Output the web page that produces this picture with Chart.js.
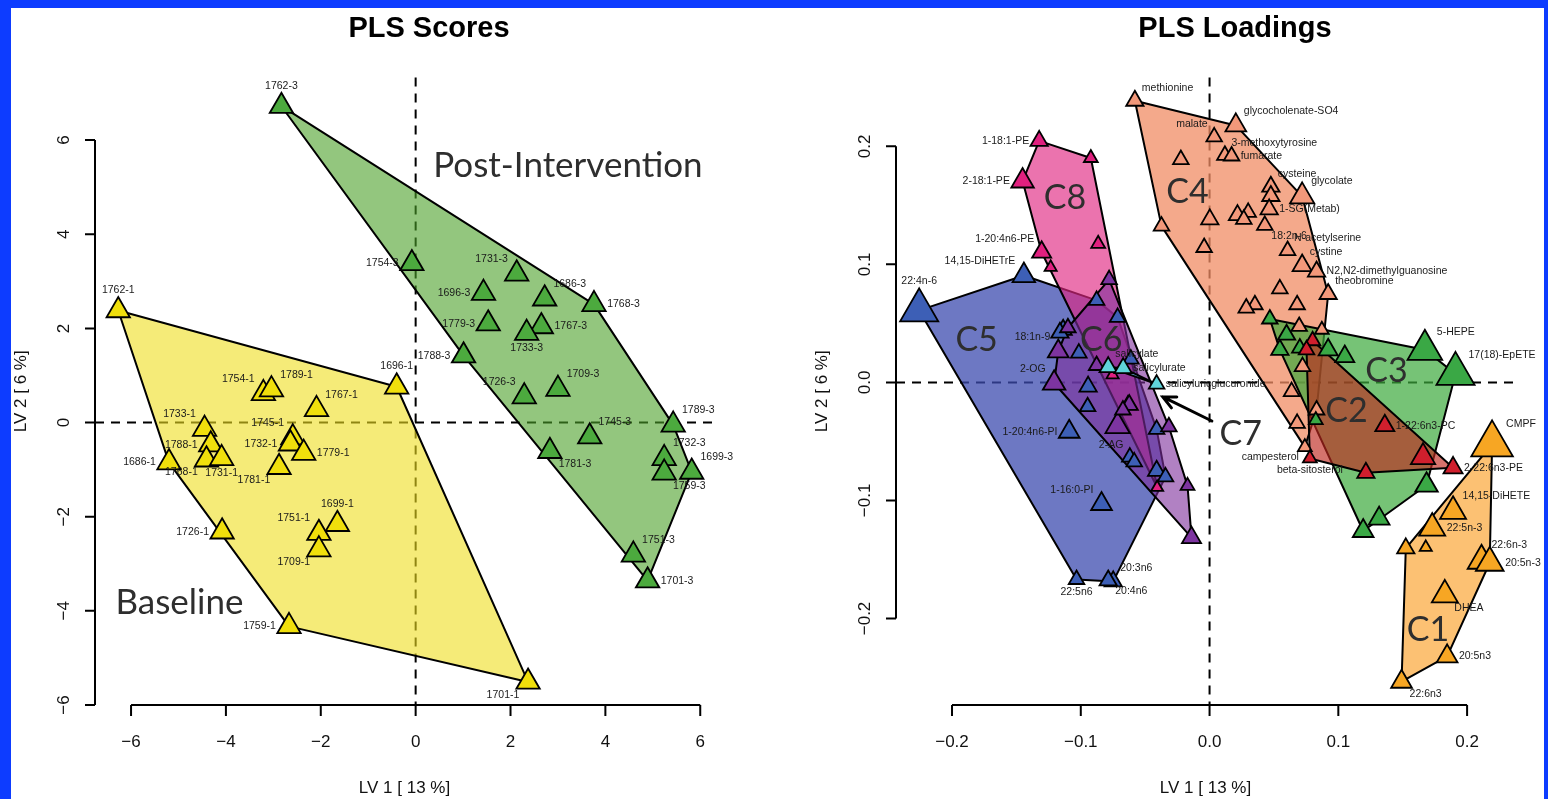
<!DOCTYPE html>
<html>
<head>
<meta charset="utf-8">
<script src="https://cdn.jsdelivr.net/npm/chart.js@4.4.0/dist/chart.umd.min.js"></script>
<style>
html, body { margin: 0; padding: 0; width: 1548px; height: 799px; overflow: hidden; background: #0d3cff; }
#sheet { position: absolute; left: 11px; top: 8px; width: 1533px; height: 791px; background: #fff; }
.box { position: absolute; top: 8px; height: 791px; }
#boxL { left: 11px; width: 764px; }
#boxR { left: 775px; width: 769px; }
</style>
</head>
<body>
<div id="sheet"></div>
<div class="box" id="boxL"><canvas id="scores"></canvas></div>
<div class="box" id="boxR"><canvas id="loadings"></canvas></div>
<script>
// ================== DATOS: PLS SCORES ==================
const baselineIds = ['1762-1', '1696-1', '1754-1', '1789-1', '1767-1', '1733-1', '1788-1', '1745-1', '1732-1', '1779-1',
    '1686-1', '1768-1', '1731-1', '1781-1', '1699-1', '1751-1', '1709-1', '1726-1', '1759-1', '1701-1'];
const baselineLV1 = [-6.27, -0.40, -3.21, -3.04, -2.09, -4.45, -4.32, -2.59, -2.64, -2.36,
    -5.20, -4.41, -4.09, -2.88, -1.65, -2.04, -2.04, -4.08, -2.67, 2.37];
const baselineLV2 = [2.38, 0.76, 0.62, 0.70, 0.28, -0.14, -0.47, -0.32, -0.45, -0.65,
    -0.85, -0.79, -0.76, -0.95, -2.16, -2.35, -2.70, -2.32, -4.33, -5.51];

const postIds = ['1762-3', '1754-3', '1731-3', '1696-3', '1686-3', '1768-3', '1779-3', '1767-3', '1733-3', '1788-3',
    '1726-3', '1709-3', '1789-3', '1745-3', '1781-3', '1732-3', '1759-3', '1699-3', '1751-3', '1701-3'];
const postLV1 = [-2.83, -0.08, 2.13, 1.43, 2.72, 3.76, 1.53, 2.65, 2.34, 1.01,
    2.29, 3.00, 5.43, 3.67, 2.83, 5.24, 5.24, 5.82, 4.59, 4.89];
const postLV2 = [6.72, 3.38, 3.16, 2.75, 2.63, 2.51, 2.10, 2.04, 1.90, 1.42,
    0.55, 0.71, -0.05, -0.30, -0.61, -0.76, -1.07, -1.05, -2.81, -3.36];

const scoreTicks = [-6, -4, -2, 0, 2, 4, 6];

// ================== DATOS: PLS LOADINGS (clusters) ==================
const c1Names = ['CMPF', '14,15-DiHETE', '22:5n-3', '', '', '22:6n-3', '20:5n-3', 'DHEA', '20:5n3', '22:6n3'];
const c1LV1 = [0.2194, 0.1891, 0.1729, 0.1679, 0.1524, 0.2112, 0.2176, 0.1827, 0.1845, 0.1491];
const c1LV2 = [-0.0525, -0.1092, -0.1234, -0.1398, -0.1406, -0.1511, -0.1528, -0.1800, -0.2321, -0.2536];
const c1Vip = [2.4, 1.5, 1.5, 0.7, 1.0, 1.6, 1.6, 1.5, 1.2, 1.2];

const c2Names = ['', '', '1-22:6n3-PC', '', '2-22:6n3-PE', '', 'beta-sitosterol'];
const c2LV1 = [0.0800, 0.0753, 0.1361, 0.1658, 0.1891, 0.1214, 0.0779];
const c2LV2 = [0.0353, 0.0276, -0.0367, -0.0633, -0.0724, -0.0766, -0.0644];
const c2Vip = [0.9, 0.9, 1.1, 1.4, 1.1, 1.0, 0.8];

const c3Names = ['5-HEPE', '17(18)-EpETE', '', '', '', '', '', '', '', '', '', ''];
const c3LV1 = [0.1672, 0.1910, 0.1050, 0.0921, 0.0546, 0.0598, 0.0468, 0.0701, 0.0825, 0.1685, 0.1317, 0.1193];
const c3LV2 = [0.0276, 0.0072, 0.0219, 0.0276, 0.0276, 0.0404, 0.0537, 0.0291, -0.0319, -0.0871, -0.1154, -0.1259];
const c3Vip = [2.0, 2.2, 1.1, 1.1, 1.0, 1.0, 0.9, 0.9, 0.8, 1.3, 1.2, 1.2];

const c4Names = ['methionine', 'glycocholenate-SO4', 'malate', '3-methoxytyrosine', 'fumarate', '', 'cysteine', '',
    'glycolate', '1-SG(Metab)', '', '', '', '', '', '18:2n-6', '', 'N-acetylserine', 'cystine',
    'N2,N2-dimethylguanosine', 'theobromine', '', '', '', '', '', '', '', '', '', '', 'campesterol'];
const c4LV1 = [-0.0580, 0.0204, 0.0036, 0.0119, 0.0171, -0.0223, 0.0476, 0.0476, 0.0719, 0.0463,
    0.0217, 0.0300, 0.0266, 0.0002, -0.0373, 0.0429, -0.0042, 0.0606, 0.0719, 0.0831,
    0.0921, 0.0546, 0.0352, 0.0285, 0.0680, 0.0696, 0.0872, 0.0722, 0.0637, 0.0831, 0.0680, 0.0740];
const c4LV2 = [0.2386, 0.2177, 0.2080, 0.1924, 0.1918, 0.1888, 0.1658, 0.1579, 0.1576, 0.1466,
    0.1417, 0.1440, 0.1381, 0.1381, 0.1324, 0.1330, 0.1143, 0.1117, 0.0990, 0.0939,
    0.0749, 0.0792, 0.0658, 0.0630, 0.0658, 0.0474, 0.0446, 0.0134, -0.0078, -0.0234, -0.0347, -0.0548];
const c4Vip = [1.0, 1.2, 0.9, 0.9, 0.9, 0.9, 1.0, 1.0, 1.4, 1.0,
    1.0, 0.9, 0.9, 1.0, 0.9, 0.9, 0.9, 0.9, 1.1, 1.0,
    1.0, 0.9, 0.9, 0.9, 0.9, 0.9, 0.8, 0.9, 0.9, 0.9, 0.9, 0.8];

const c5Names = ['22:4n-6', '14,15-DiHETrE', '', '', '', '', '', '1-20:4n6-PI', '', '', '', '', '', '2-AG', '', '', '',
    '1-16:0-PI', '22:5n6', '20:3n6', '20:4n6'];
const c5LV1 = [-0.2255, -0.1442, -0.1137, -0.1162, -0.1015, -0.0943, -0.0947, -0.1090, -0.0877, -0.0714, -0.0611,
    -0.0634, -0.0411, -0.0619, -0.0585, -0.0411, -0.0342, -0.0839, -0.1033, -0.0748, -0.0787];
const c5LV2 = [0.0610, 0.0905, 0.0446, 0.0421, 0.0248, -0.0036, -0.0206, -0.0418, 0.0695, 0.0551, 0.0197,
    -0.0191, -0.0398, -0.0633, -0.0673, -0.0749, -0.0800, -0.1030, -0.1670, -0.1686, -0.1678];
const c5Vip = [2.2, 1.3, 1.0, 1.0, 0.9, 1.0, 0.9, 1.2, 0.9, 0.9, 0.9, 0.9, 0.9, 0.9, 0.9, 1.0, 0.9, 1.2, 0.9, 1.0, 1.0];

const c6Names = ['18:1n-9', '2-OG', '', '', '', '', '', '', '', '', ''];
const c6LV1 = [-0.1175, -0.1207, -0.0714, -0.0780, -0.0877, -0.0624, -0.0673, -0.0316, -0.0171, -0.0140, -0.1100];
const c6LV2 = [0.0262, -0.0007, -0.0370, 0.0871, 0.0143, -0.0191, -0.0234, -0.0376, -0.0877, -0.1315, 0.0463];
const c6Vip = [1.2, 1.3, 1.4, 0.9, 0.9, 1.0, 0.9, 0.9, 0.8, 1.1, 0.9];

const c7Names = ['salicylate', 'salicylurate', 'salicyluricglucuronide'];
const c7LV1 = [-0.0787, -0.0671, -0.0411];
const c7LV2 = [0.0129, 0.0121, -0.0015];
const c7Vip = [1.0, 1.0, 0.9];

const c8Names = ['1-18:1-PE', '', '2-18:1-PE', '', '1-20:4n6-PE', '', '', ''];
const c8LV1 = [-0.1323, -0.0922, -0.1452, -0.0865, -0.1304, -0.1234, -0.0753, -0.0407];
const c8LV2 = [0.2046, 0.1901, 0.1706, 0.1174, 0.1103, 0.0975, 0.0064, -0.0890];
const c8Vip = [1.0, 0.8, 1.3, 0.8, 1.1, 0.7, 0.7, 0.7];

const loadingTicks = [-0.2, -0.1, 0.0, 0.1, 0.2];

// ================== POSICION DE ETIQUETAS ==================
const baselineLabelPos = ['n', 'n', 'nw', 'ne', 'ne', 'nw', 'w', 'nw', 'w', 'e', 'w', 'sw', 's', 'sw', 'n', 'nw', 'sw', 'w', 'w', 'sw'];
const postLabelPos = ['n', 'w', 'nw', 'w', 'ne', 'e', 'w', 'e', 's', 'w', 'nw', 'ne', 'ne', 'ne', 'se', 'ne', 'se', 'ne', 'ne', 'e'];
const c1LabelPos = ['ne', 'ne', 'e', '', '', 'ne', 'e', 'se', 'e', 'se'];
const c2LabelPos = ['', '', 'e', '', 'e', '', 's'];
const c3LabelPos = ['ne', 'ne'];
const c4LabelPos = ['ne', 'ne', 'nw', 'ne', 'e', '', 'ne', '', 'ne', 'e', '', '', '', '', '', 'se', '', 'ne', 'ne', 'e', 'ne',
    '', '', '', '', '', '', '', '', '', '', 'sw'];
const c5LabelPos = ['n', 'nw', '', '', '', '', '', 'w', '', '', '', '', '', 'nw', '', '', '', 'nw', 's', 'ne', 'se'];
const c6LabelPos = ['nw', 'nw'];
const c7LabelPos = ['ne', 'e', 'e'];
const c8LabelPos = ['w', '', 'w', '', 'nw'];

// ================== FUNCIONES AUXILIARES ==================
const SANS = '"Liberation Sans", Arial, Helvetica, sans-serif';

function toPoints(xs, ys) {
    return xs.map((x, i) => ({ x: x, y: ys[i] }));
}

// Envolvente convexa (monotone chain)
function convexHull(pts) {
    const s = pts.slice().sort((a, b) => a.x - b.x || a.y - b.y);
    const cross = (o, a, b) => (a.x - o.x) * (b.y - o.y) - (a.y - o.y) * (b.x - o.x);
    const lo = [], up = [];
    for (const q of s) {
        while (lo.length >= 2 && cross(lo[lo.length - 2], lo[lo.length - 1], q) <= 0) lo.pop();
        lo.push(q);
    }
    for (const q of s.reverse()) {
        while (up.length >= 2 && cross(up[up.length - 2], up[up.length - 1], q) <= 0) up.pop();
        up.push(q);
    }
    lo.pop(); up.pop();
    const h = lo.concat(up);
    h.push({ x: h[0].x, y: h[0].y });
    return h;
}

function hullSet(xs, ys, fill, order) {
    return {
        data: convexHull(toPoints(xs, ys)),
        showLine: true, fill: 'shape', tension: 0,
        backgroundColor: fill, borderColor: '#000', borderWidth: 2, borderJoinStyle: 'round',
        pointRadius: 0, pointHoverRadius: 0, order: order, clip: false
    };
}

function pointSet(names, xs, ys, radius, labelPos, color, order) {
    return {
        data: toPoints(xs, ys),
        showLine: false, pointStyle: 'triangle', pointRadius: radius,
        pointBackgroundColor: color, pointBorderColor: '#000', pointBorderWidth: 1.8,
        order: order, names: names, labelPos: labelPos, clip: false
    };
}

function labelAnchor(code, x, y, r) {
    switch (code) {
        case 'n': return [x, y - r - 7, 'center'];
        case 's': return [x, y + 0.5 * r + 8, 'center'];
        case 'e': return [x + 0.9 * r + 1, y, 'left'];
        case 'w': return [x - 0.9 * r - 1, y, 'right'];
        case 'ne': return [x + 0.5 * r + 2, y - 0.5 * r - 8, 'left'];
        case 'nw': return [x - 0.5 * r - 2, y - 0.5 * r - 8, 'right'];
        case 'se': return [x + 0.5 * r + 2, y + 0.5 * r + 6, 'left'];
        case 'sw': return [x - 0.5 * r - 2, y + 0.5 * r + 6, 'right'];
    }
    return null;
}

// Plugin estilo R: lineas discontinuas, etiquetas, ejes y titulos
const rPlot = {
    id: 'rplot',
    beforeDatasetsDraw(chart) {
        const { ctx, chartArea: a, scales: { x, y } } = chart;
        const x0 = x.getPixelForValue(0), y0 = y.getPixelForValue(0);
        ctx.save();
        ctx.strokeStyle = '#000';
        ctx.lineWidth = 2;
        ctx.setLineDash([9, 7]);
        ctx.beginPath();
        ctx.moveTo(a.left, y0); ctx.lineTo(a.right, y0);
        ctx.moveTo(x0, a.top); ctx.lineTo(x0, a.bottom);
        ctx.stroke();
        ctx.restore();
    },
    afterDatasetsDraw(chart, args, opts) {
        const { ctx, scales: { x, y } } = chart;
        ctx.save();
        // etiquetas de puntos
        ctx.fillStyle = '#1a1a1a';
        ctx.font = '10.5px ' + SANS;
        ctx.textBaseline = 'middle';
        chart.data.datasets.forEach((ds, i) => {
            if (!ds.names) return;
            const meta = chart.getDatasetMeta(i);
            meta.data.forEach((el, j) => {
                const name = ds.names[j];
                const code = ds.labelPos[j];
                if (!name || !code) return;
                const r = el.options.radius;
                const an = labelAnchor(code, el.x, el.y, r);
                ctx.textAlign = an[2];
                ctx.fillText(name, an[0], an[1]);
            });
        });
        // anotaciones grandes
        ctx.fillStyle = '#2e2e2e';
        ctx.textAlign = 'center';
        ctx.textBaseline = 'alphabetic';
        (opts.notes || []).forEach(n => {
            ctx.font = n.size + 'px Lato, "Open Sans", sans-serif';
            ctx.fillText(n.text, x.getPixelForValue(n.x), y.getPixelForValue(n.y));
        });
        // flechas
        ctx.strokeStyle = '#000';
        ctx.lineWidth = 3;
        ctx.lineCap = 'round';
        (opts.arrows || []).forEach(ar => {
            const x1 = x.getPixelForValue(ar.from[0]), y1 = y.getPixelForValue(ar.from[1]);
            const x2 = x.getPixelForValue(ar.to[0]), y2 = y.getPixelForValue(ar.to[1]);
            const ang = Math.atan2(y2 - y1, x2 - x1);
            ctx.beginPath();
            ctx.moveTo(x1, y1); ctx.lineTo(x2, y2);
            ctx.moveTo(x2 - 14 * Math.cos(ang - 0.45), y2 - 14 * Math.sin(ang - 0.45));
            ctx.lineTo(x2, y2);
            ctx.lineTo(x2 - 14 * Math.cos(ang + 0.45), y2 - 14 * Math.sin(ang + 0.45));
            ctx.stroke();
        });
        ctx.restore();
    },
    afterDraw(chart, args, opts) {
        const { ctx, chartArea: a, scales: { x, y } } = chart;
        const ticks = opts.ticks;
        const fmt = v => opts.fmt(v).replace('-', '\u2212');
        ctx.save();
        ctx.strokeStyle = '#000';
        ctx.fillStyle = '#111';
        ctx.lineWidth = 2;
        // eje x
        const xs = ticks.map(v => x.getPixelForValue(v));
        ctx.beginPath();
        ctx.moveTo(xs[0], a.bottom); ctx.lineTo(xs[xs.length - 1], a.bottom);
        xs.forEach(px => { ctx.moveTo(px, a.bottom); ctx.lineTo(px, a.bottom + 11); });
        // eje y
        const ys = ticks.map(v => y.getPixelForValue(v));
        ctx.moveTo(a.left, ys[0]); ctx.lineTo(a.left, ys[ys.length - 1]);
        ys.forEach(py => { ctx.moveTo(a.left, py); ctx.lineTo(a.left - 10, py); });
        ctx.stroke();

        ctx.font = '17px ' + SANS;
        ctx.textAlign = 'center';
        ctx.textBaseline = 'middle';
        ticks.forEach((v, i) => ctx.fillText(fmt(v), xs[i], a.bottom + 37));
        ticks.forEach((v, i) => {
            ctx.save();
            ctx.translate(a.left - 31, ys[i]);
            ctx.rotate(-Math.PI / 2);
            ctx.fillText(fmt(v), 0, 0);
            ctx.restore();
        });
        // titulos de ejes
        ctx.fillText('LV 1 [ 13 %]', (a.left + a.right) / 2, a.bottom + 83);
        ctx.save();
        ctx.translate(a.left - 74, (a.top + a.bottom) / 2);
        ctx.rotate(-Math.PI / 2);
        ctx.fillText('LV 2 [ 6 %]', 0, 0);
        ctx.restore();
        // titulo principal
        ctx.fillStyle = '#000';
        ctx.font = 'bold 29px ' + SANS;
        ctx.fillText(opts.title, opts.titleX, 21);
        ctx.restore();
    }
};

function makeChart(id, datasets, xlim, ylim, padding, plotOpts) {
    return new Chart(document.getElementById(id), {
        type: 'scatter',
        data: { datasets: datasets },
        options: {
            responsive: true,
            maintainAspectRatio: false,
            animation: false,
            events: [],
            layout: { padding: padding },
            scales: {
                x: { type: 'linear', min: xlim[0], max: xlim[1], display: false },
                y: { type: 'linear', min: ylim[0], max: ylim[1], display: false }
            },
            plugins: {
                legend: { display: false },
                tooltip: { enabled: false },
                rplot: plotOpts
            }
        },
        plugins: [rPlot]
    });
}

// ================== GRAFICO IZQUIERDO: SCORES ==================
const SCORE_R = 13.5;
makeChart('scores', [
    hullSet(postLV1, postLV2, 'rgba(75,160,40,0.6)', 201),
    hullSet(baselineLV1, baselineLV2, 'rgba(238,222,30,0.6)', 200),
    pointSet(postIds, postLV1, postLV2, SCORE_R, postLabelPos, '#4caa3e', 2),
    pointSet(baselineIds, baselineLV1, baselineLV2, SCORE_R, baselineLabelPos, '#f0df0c', 1)
], [-6.76, 6.29], [-6.0, 7.33], { left: 84, right: 61, top: 69.5, bottom: 94 }, {
    ticks: scoreTicks,
    fmt: v => String(v),
    title: 'PLS Scores',
    titleX: 418,
    notes: [
        { text: 'Post-Intervention', x: 3.21, y: 5.22, size: 35 },
        { text: 'Baseline', x: -4.98, y: -4.06, size: 35 }
    ]
});

// ================== GRAFICO DERECHO: LOADINGS ==================
const vipR = v => v.map(s => s * 10);
const clusters = [
    // orden de dibujo: primero los de abajo
    { lv1: c5LV1, lv2: c5LV2, names: c5Names, vip: c5Vip, pos: c5LabelPos, pt: '#3d5fb6', fill: 'rgba(60,75,175,0.75)' },
    { lv1: c8LV1, lv2: c8LV2, names: c8Names, vip: c8Vip, pos: c8LabelPos, pt: '#e0207f', fill: 'rgba(225,40,130,0.65)' },
    { lv1: c6LV1, lv2: c6LV2, names: c6Names, vip: c6Vip, pos: c6LabelPos, pt: '#7d34a0', fill: 'rgba(125,45,155,0.6)' },
    { lv1: c7LV1, lv2: c7LV2, names: c7Names, vip: c7Vip, pos: c7LabelPos, pt: '#5fd4da', fill: 'rgba(80,210,215,0.7)' },
    { lv1: c4LV1, lv2: c4LV2, names: c4Names, vip: c4Vip, pos: c4LabelPos, pt: '#f2987a', fill: 'rgba(240,140,100,0.75)' },
    { lv1: c3LV1, lv2: c3LV2, names: c3Names, vip: c3Vip, pos: c3LabelPos, pt: '#3aa845', fill: 'rgba(60,170,60,0.7)' },
    { lv1: c2LV1, lv2: c2LV2, names: c2Names, vip: c2Vip, pos: c2LabelPos, pt: '#d01f2d', fill: 'rgba(190,40,30,0.65)' },
    { lv1: c1LV1, lv2: c1LV2, names: c1Names, vip: c1Vip, pos: c1LabelPos, pt: '#f7a623', fill: 'rgba(250,160,40,0.65)' }
];
const loadingSets = [];
clusters.forEach((c, k) => {
    loadingSets.push(hullSet(c.lv1, c.lv2, c.fill, 200 - k));
    loadingSets.push(pointSet(c.names, c.lv1, c.lv2, vipR(c.vip), c.pos, c.pt, 100 - k));
});

makeChart('loadings', loadingSets, [-0.2435, 0.2372], [-0.2733, 0.2583], { left: 121, right: 29, top: 69.5, bottom: 94 }, {
    ticks: loadingTicks,
    fmt: v => v.toFixed(1),
    title: 'PLS Loadings',
    titleX: 460,
    notes: [
        { text: 'C1', x: 0.1697, y: -0.2188, size: 34 },
        { text: 'C2', x: 0.1064, y: -0.0333, size: 34 },
        { text: 'C3', x: 0.1374, y: 0.0007, size: 34 },
        { text: 'C4', x: -0.0172, y: 0.1523, size: 34 },
        { text: 'C5', x: -0.1809, y: 0.0262, size: 34 },
        { text: 'C6', x: -0.0842, y: 0.0262, size: 34 },
        { text: 'C7', x: 0.0242, y: -0.0531, size: 34 },
        { text: 'C8', x: -0.1123, y: 0.1466, size: 34 }
    ],
    arrows: [{ from: [0.0018, -0.0327], to: [-0.0363, -0.0123] }]
});
</script>
</body>
</html>
